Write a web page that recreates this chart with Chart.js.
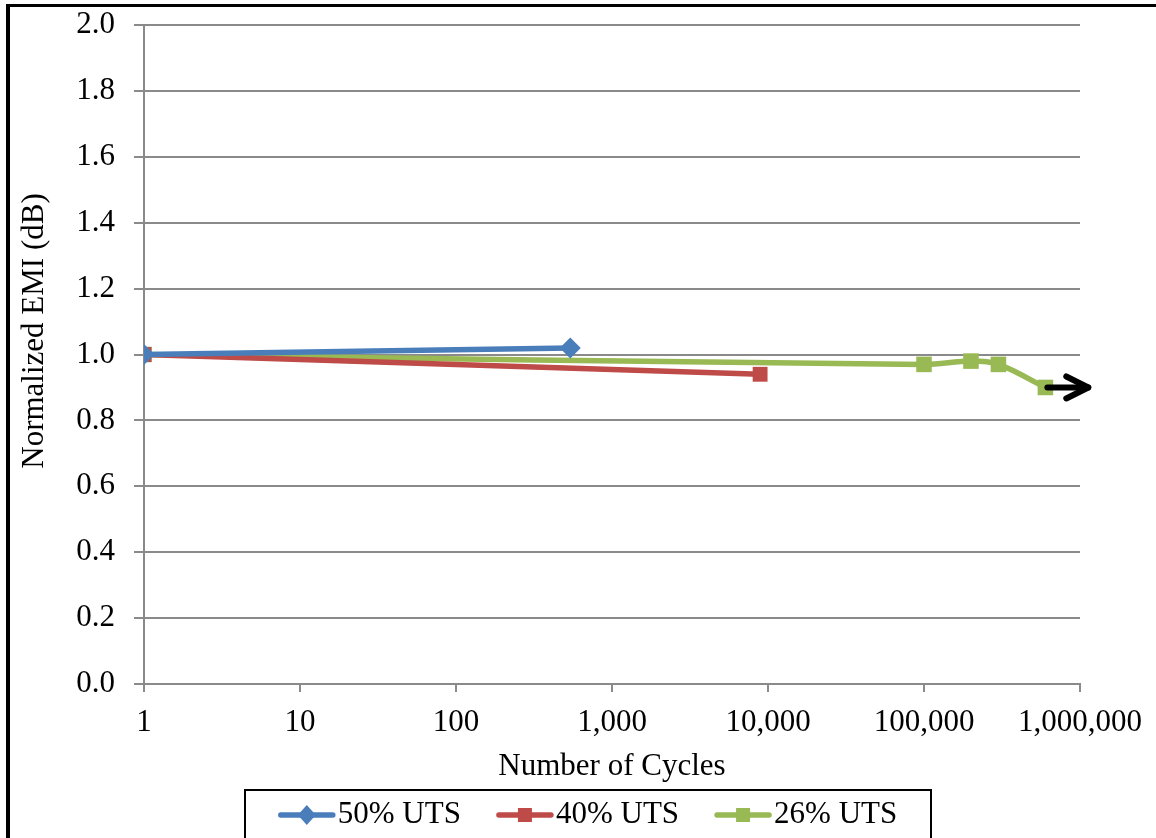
<!DOCTYPE html>
<html>
<head>
<meta charset="utf-8">
<title>Normalized EMI vs Number of Cycles</title>
<script src="https://cdn.jsdelivr.net/npm/chart.js@4.4.0/dist/chart.umd.min.js"></script>
<style>
  html, body { margin: 0; padding: 0; background: #fff; overflow: hidden; }
  #wrap { position: relative; width: 1156px; height: 838px; }
  #wrap canvas { position: absolute; left: 0; top: 0; }
  #frame {
    position: absolute; left: 6px; top: 4px; width: 1300px; height: 1000px;
    border-left: 4px solid #000; border-top: 3px solid #000;
    box-sizing: border-box; pointer-events: none;
  }
</style>
</head>
<body>
<div id="wrap">
  <canvas id="chart" width="1156" height="838"></canvas>
  <div id="frame"></div>
</div>
<script>
// Series: normalized EMI at each load level vs. number of cycles
const seriesNames = ['50% UTS', '40% UTS', '26% UTS'];
const seriesColors = ['#4A7EBB', '#BE4B48', '#98B954'];

const cycles50 = [1, 540];
const emi50 = [1.00, 1.02];

const cycles40 = [1, 8900];
const emi40 = [1.00, 0.94];

const cycles26 = [1, 100000, 200000, 300000, 600000];
const emi26 = [1.00, 0.97, 0.98, 0.97, 0.90];

// Run-out arrow after the last 26% UTS reading
const arrowCycles = [600000, 1130000];
const arrowEmi = 0.90;

// Axis ticks
const xTickValues = [1, 10, 100, 1000, 10000, 100000, 1000000];
const xTickLabels = ['1', '10', '100', '1,000', '10,000', '100,000', '1,000,000'];
const yTickValues = [0, 0.2, 0.4, 0.6, 0.8, 1.0, 1.2, 1.4, 1.6, 1.8, 2.0];
const yTickLabels = ['0.0', '0.2', '0.4', '0.6', '0.8', '1.0', '1.2', '1.4', '1.6', '1.8', '2.0'];

const xTitle = 'Number of Cycles';
const yTitle = 'Normalized EMI (dB)';

const FONT = "'Liberation Serif', 'Times New Roman', Times, serif";
const FONT_SIZE = 31;
const GRID = '#8a8a8a';

Chart.defaults.font.family = FONT;
Chart.defaults.color = '#000';

function toPoints(xs, ys) {
  return xs.map((x, i) => ({ x: x, y: ys[i] }));
}

// Black arrow marking the run-out of the 26% UTS specimen
const arrowPlugin = {
  id: 'runoutArrow',
  afterDatasetsDraw(chart) {
    const { ctx, scales } = chart;
    const x0 = scales.x.getPixelForValue(arrowCycles[0]);
    const x1 = scales.x.getPixelForValue(arrowCycles[1]);
    const y = scales.y.getPixelForValue(arrowEmi);
    ctx.save();
    ctx.strokeStyle = '#000';
    ctx.lineWidth = 6;
    ctx.lineCap = 'round';
    ctx.lineJoin = 'round';
    ctx.beginPath();
    ctx.moveTo(x0 + 2, y);
    ctx.lineTo(x1, y);
    ctx.stroke();
    ctx.beginPath();
    ctx.moveTo(x1 - 22, y - 11);
    ctx.lineTo(x1, y);
    ctx.lineTo(x1 - 22, y + 11);
    ctx.stroke();
    ctx.restore();
  }
};

// Rotated y-axis title
const yTitlePlugin = {
  id: 'yTitle',
  afterDraw(chart) {
    const ctx = chart.ctx;
    ctx.save();
    ctx.translate(35, 331);
    ctx.rotate(-Math.PI / 2);
    ctx.font = FONT_SIZE + 'px ' + FONT;
    ctx.fillStyle = '#000';
    ctx.textAlign = 'center';
    ctx.textBaseline = 'middle';
    ctx.fillText(yTitle, 0, 0);
    ctx.restore();
  }
};

// Boxed legend with line + marker samples
const legendPlugin = {
  id: 'boxedLegend',
  afterDraw(chart) {
    const ctx = chart.ctx;
    ctx.save();
    ctx.font = FONT_SIZE + 'px ' + FONT;
    const sampleW = 56, textGap = 3, itemGap = 36;
    const items = chart.data.datasets.map(ds => ({
      ds: ds,
      w: sampleW + textGap + ctx.measureText(ds.label).width
    }));
    const total = items.reduce((a, it) => a + it.w, 0) + itemGap * (items.length - 1);
    const boxL = 245, boxR = 931, boxT = 790;
    const cy = 815;

    ctx.strokeStyle = '#000';
    ctx.lineWidth = 2;
    ctx.strokeRect(boxL, boxT, boxR - boxL, 200);

    let x = (boxL + boxR) / 2 - total / 2;
    items.forEach(it => {
      const c = it.ds.borderColor;
      ctx.strokeStyle = c;
      ctx.fillStyle = c;
      ctx.lineWidth = 5.5;
      ctx.lineCap = 'round';
      ctx.beginPath();
      ctx.moveTo(x + 2, cy);
      ctx.lineTo(x + sampleW - 2, cy);
      ctx.stroke();
      const mx = x + sampleW / 2;
      ctx.beginPath();
      if (it.ds.pointStyle === 'rectRot') {
        ctx.moveTo(mx, cy - 10);
        ctx.lineTo(mx + 9, cy);
        ctx.lineTo(mx, cy + 10);
        ctx.lineTo(mx - 9, cy);
        ctx.closePath();
      } else {
        ctx.rect(mx - 7, cy - 7, 14, 14);
      }
      ctx.fill();
      ctx.fillStyle = '#000';
      ctx.textAlign = 'left';
      ctx.textBaseline = 'middle';
      ctx.fillText(it.ds.label, x + sampleW + textGap, cy);
      x += it.w + itemGap;
    });
    ctx.restore();
  }
};

const common = {
  borderWidth: 5.5,
  pointBorderWidth: 0,
  pointHoverRadius: 10,
  fill: false
};

new Chart(document.getElementById('chart'), {
  type: 'line',
  data: {
    datasets: [
      Object.assign({
        label: seriesNames[0],
        data: toPoints(cycles50, emi50),
        borderColor: seriesColors[0],
        backgroundColor: seriesColors[0],
        pointStyle: 'rectRot',
        pointRadius: 10.5,
        tension: 0
      }, common),
      Object.assign({
        label: seriesNames[1],
        data: toPoints(cycles40, emi40),
        borderColor: seriesColors[1],
        backgroundColor: seriesColors[1],
        pointStyle: 'rect',
        pointRadius: 10.5,
        tension: 0
      }, common),
      Object.assign({
        label: seriesNames[2],
        data: toPoints(cycles26, emi26),
        borderColor: seriesColors[2],
        backgroundColor: seriesColors[2],
        pointStyle: 'rect',
        pointRadius: 11,
        tension: 0.35
      }, common)
    ]
  },
  options: {
    responsive: false,
    animation: false,
    events: [],
    layout: { padding: { left: 0, right: 76, top: 25, bottom: 48 } },
    plugins: {
      legend: { display: false },
      tooltip: { enabled: false }
    },
    scales: {
      x: {
        type: 'logarithmic',
        min: xTickValues[0],
        max: xTickValues[xTickValues.length - 1],
        afterBuildTicks(scale) {
          scale.ticks = xTickValues.map(v => ({ value: v }));
        },
        ticks: {
          autoSkip: false,
          maxRotation: 0,
          padding: 12,
          font: { size: FONT_SIZE },
          callback: (v, i) => xTickLabels[i]
        },
        grid: { drawOnChartArea: false, drawTicks: true, tickLength: 8, color: GRID, lineWidth: 2 },
        border: { color: GRID, width: 2 },
        title: {
          display: true,
          text: xTitle,
          font: { size: FONT_SIZE },
          padding: { top: 0, bottom: 5 }
        },
        afterFit(scale) { scale.height = 106; }
      },
      y: {
        min: yTickValues[0],
        max: yTickValues[yTickValues.length - 1],
        afterBuildTicks(scale) {
          scale.ticks = yTickValues.map(v => ({ value: v }));
        },
        ticks: {
          padding: 19,
          font: { size: FONT_SIZE },
          callback: (v, i) => yTickLabels[i]
        },
        grid: { color: GRID, lineWidth: 2, tickLength: 10 },
        border: { color: GRID, width: 2 },
        afterFit(scale) {
          scale.width = 144;
          scale.paddingTop = 0;
          scale.paddingBottom = 0;
        }
      }
    }
  },
  plugins: [arrowPlugin, yTitlePlugin, legendPlugin]
});
</script>
</body>
</html>
